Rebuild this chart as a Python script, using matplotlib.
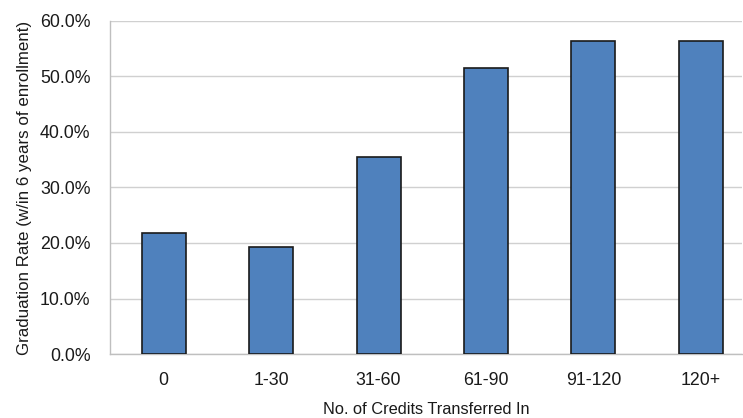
import matplotlib.pyplot as plt
from matplotlib.ticker import PercentFormatter

plt.rcParams["font.family"] = ["Liberation Sans", "DejaVu Sans"]

CREDITS = ["0", "1-30", "31-60", "61-90", "91-120", "120+"]
GRAD_RATE = [21.8, 19.3, 35.4, 51.5, 56.4, 56.4]

fig = plt.figure(figsize=(7.43, 4.18), dpi=100)
ax = fig.add_axes([0.148, 0.153, 0.851, 0.797])

x = range(len(CREDITS))
ax.bar(x, GRAD_RATE, width=0.41, color="#4f81bd", edgecolor="#1a1a1a",
       linewidth=1.2, zorder=3)

ax.set_ylim(0, 60)
ax.set_yticks(range(0, 61, 10))
ax.yaxis.set_major_formatter(PercentFormatter(decimals=1))
ax.set_xlim(-0.5, 5.385)
ax.set_xticks(list(x))
ax.set_xticklabels(CREDITS)
ax.tick_params(length=0, labelsize=12.8, colors="#1a1a1a")
ax.tick_params(axis="y", pad=14)
ax.tick_params(axis="x", pad=13)

ax.grid(axis="y", color="#d0d0d0", linewidth=1, zorder=0)
for side in ("top", "right"):
    ax.spines[side].set_visible(False)
for side in ("left", "bottom"):
    ax.spines[side].set_color("#bfbfbf")
    ax.spines[side].set_linewidth(1)

ax.set_ylabel("Graduation Rate (w/in 6 years of enrollment)", fontsize=12.2,
              color="#1a1a1a", labelpad=6)
ax.set_xlabel("No. of Credits Transferred In", fontsize=11.8,
              color="#1a1a1a", labelpad=9)

fig.savefig("out.png", dpi=100)
